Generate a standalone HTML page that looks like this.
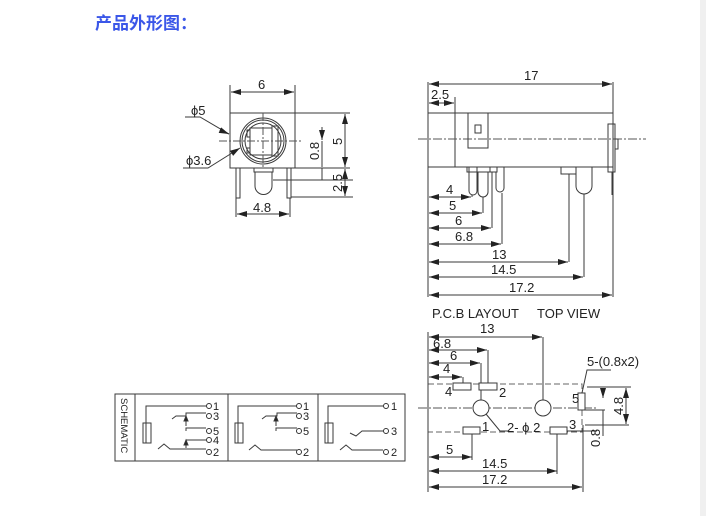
<!DOCTYPE html>
<html><head><meta charset="utf-8"><style>
html,body{margin:0;padding:0;background:#fff;width:706px;height:516px;overflow:hidden}
svg{display:block}
text{font-family:"Liberation Sans",Arial,sans-serif;fill:#222}
</style></head><body>
<svg width="706" height="516" viewBox="0 0 706 516" xmlns="http://www.w3.org/2000/svg">
<defs>
<marker id="a" viewBox="0 0 10 6" refX="10" refY="3" markerWidth="10" markerHeight="6" orient="auto-start-reverse" markerUnits="userSpaceOnUse"><path d="M0,0L10,3L0,6z" fill="#222"/></marker>
</defs>
<rect x="700" y="0" width="6" height="516" fill="#f0f0f0"/>
<text x="95" y="29" style="font-family:'Liberation Sans','Noto Sans CJK SC',sans-serif;font-weight:bold;font-size:17px;fill:#3b57e8">产品外形图：</text>

<g stroke="#3a3a3a" stroke-width="1" fill="none">
<!-- FRONT VIEW -->
<rect x="230" y="113" width="65" height="55"/>
<circle cx="263" cy="141" r="23"/><circle cx="263" cy="141" r="21"/><circle cx="263" cy="141" r="18"/>
<rect x="250" y="128" width="22" height="27"/><rect x="272" y="126" width="6" height="30"/>
<path d="M250,137h-3v-7h3M250,148h-3v5h3"/>
<path d="M219,141h82" stroke-dasharray="8,2,2,2" stroke="#555"/><path d="M263,113v55" stroke-dasharray="8,2,2,2" stroke="#555"/>
<path d="M236,168v30h4v-30M287,168v30h4v-30"/>
<path d="M254,168v4h19v-4M255,172v14a8,8 0 0 0 17,0v-14"/>
<path d="M230,113v-28M295,113v-28"/><path d="M231,92h63" marker-start="url(#a)" marker-end="url(#a)"/>
<path d="M236,198v19M290,198v19"/><path d="M237,214h52" marker-start="url(#a)" marker-end="url(#a)"/>
<path d="M185,117h15l29,17" /><path d="M222,131l7,3" marker-end="url(#a)"/>
<path d="M183,168h25l32,-20" marker-end="url(#a)"/>
<path d="M295,113h55M295,168h55M273,180h80M291,197h62"/>
<path d="M322,140v-13M322,180v-12" marker-start="url(#a)"/><path d="M322,141v26"/>
<path d="M345,114v53" marker-start="url(#a)" marker-end="url(#a)"/>
<path d="M345,169v27" marker-start="url(#a)" marker-end="url(#a)"/>

<!-- SIDE VIEW -->
<rect x="428" y="113" width="185" height="54"/><path d="M455,113v54"/>
<path d="M418,139h228" stroke-dasharray="9,2,2,2" stroke="#555"/>
<rect x="468" y="113" width="20" height="35"/><rect x="475" y="125" width="6" height="8"/>
<path d="M468,148h20"/>
<rect x="608" y="124" width="7" height="48"/><path d="M615,139h3v10h-3M612,172v23"/>
<path d="M469,167v24a4,4 0 0 0 8,0v-24M478,172v20a5,5 0 0 0 10,0v-20M467,167v5h23v-5M490,172h7v-5M496,172v16a4,4 0 0 0 8,0v-21M489,172h8"/>
<path d="M561,167v7h15v-7M576,174v12a8,8 0 0 0 16,0v-19"/>
<path d="M428,82v215M613,82v215"/>
<path d="M429,84h183" marker-start="url(#a)" marker-end="url(#a)"/>
<path d="M455,97v16"/><path d="M429,103h25" marker-start="url(#a)" marker-end="url(#a)"/>
<path d="M429,197h42" marker-start="url(#a)" marker-end="url(#a)"/><path d="M472,197v-2"/>
<path d="M429,213h53" marker-start="url(#a)" marker-end="url(#a)"/><path d="M483,213v-16"/>
<path d="M429,228h62" marker-start="url(#a)" marker-end="url(#a)"/><path d="M492,228v-56"/>
<path d="M429,244h72" marker-start="url(#a)" marker-end="url(#a)"/><path d="M502,244v-51"/>
<path d="M429,262h139" marker-start="url(#a)" marker-end="url(#a)"/><path d="M569,262v-88"/>
<path d="M429,277h154" marker-start="url(#a)" marker-end="url(#a)"/><path d="M584,277v-83"/>
<path d="M429,295h183" marker-start="url(#a)" marker-end="url(#a)"/><path d="M613,295v-100"/>

<!-- PCB -->
<path d="M428,384h154v48h-154z" stroke-dasharray="6,3" stroke="#666"/>
<path d="M418,408h180" stroke-dasharray="9,2,2,2" stroke="#555"/>
<path d="M428,332v160M583,425v67"/>
<path d="M429,337h113" marker-start="url(#a)" marker-end="url(#a)"/><path d="M543,337v78"/>
<path d="M429,350h58" marker-start="url(#a)" marker-end="url(#a)"/><path d="M488,350v33"/>
<path d="M429,363h51" marker-start="url(#a)" marker-end="url(#a)"/><path d="M481,363v38"/>
<path d="M429,377h33" marker-start="url(#a)" marker-end="url(#a)"/><path d="M463,377v6"/>
<rect x="453" y="383" width="18" height="7" fill="#fff"/><rect x="479" y="383" width="18" height="7" fill="#fff"/>
<circle cx="481" cy="408" r="8" fill="#fff"/><circle cx="543" cy="408" r="8" fill="#fff"/>
<rect x="463" y="427" width="17" height="7" fill="#fff"/><rect x="550" y="427" width="17" height="7" fill="#fff"/>
<rect x="578" y="393" width="7" height="17" fill="#fff"/>
<path d="M486,414l14,17h8"/>
<path d="M429,457h43" marker-start="url(#a)" marker-end="url(#a)"/><path d="M472,434v26"/>
<path d="M429,471h128" marker-start="url(#a)" marker-end="url(#a)"/><path d="M557,434v40"/>
<path d="M429,487h153" marker-start="url(#a)" marker-end="url(#a)"/>
<path d="M582,393l5,-23h24"/>
<path d="M587,387h44M585,425h44M567,431h30M585,410h20"/>
<path d="M626,388v36" marker-start="url(#a)" marker-end="url(#a)"/>
<path d="M603,398v-10M603,424v12" marker-start="url(#a)"/><path d="M603,410v14"/>

<!-- SCHEMATIC -->
<rect x="115" y="394" width="290" height="67"/><path d="M135,394v67M228,394v67M318,394v67"/>
<path d="M146,443v-37h60M143,423h8v20h-8zM158,449l6,-5l6,5h36M172,419l4,-3h10v-3h20M186,416v10M186,431v-3h20M186,448v-8M186,440h20" />
<path d="M186,416l-2,5h4z" fill="#222"/><path d="M186,440l-2,5h4z" fill="#222"/>
<path d="M238,443v-37h60M235,423h8v20h-8zM249,450l6,-5l6,5h36M262,419l4,-3h11v-3h20M276,416v10M276,431v-3h21"/>
<path d="M276,416l-2,5h4z" fill="#222"/>
<path d="M328,443v-37h55M325,423h8v20h-8zM340,450l6,-5l6,5h31M350,433l6,3l6,-5h21"/>
</g>
<g fill="#fff" stroke="#333">
<circle cx="209" cy="406" r="2.5"/><circle cx="209" cy="416" r="2.5"/><circle cx="209" cy="431" r="2.5"/><circle cx="209" cy="440" r="2.5"/><circle cx="209" cy="452" r="2.5"/>
<circle cx="299" cy="406" r="2.5"/><circle cx="299" cy="416" r="2.5"/><circle cx="299" cy="431" r="2.5"/><circle cx="299" cy="452" r="2.5"/>
<circle cx="386" cy="406" r="2.5"/><circle cx="386" cy="431" r="2.5"/><circle cx="386" cy="452" r="2.5"/>
</g>
<g font-size="11">
<text x="213" y="410">1</text><text x="213" y="420">3</text><text x="213" y="435">5</text><text x="213" y="444">4</text><text x="213" y="456">2</text>
<text x="303" y="410">1</text><text x="303" y="420">3</text><text x="303" y="435">5</text><text x="303" y="456">2</text>
<text x="391" y="410">1</text><text x="391" y="435">3</text><text x="391" y="456">2</text>
<text transform="translate(121,398) rotate(90)" font-size="9.5">SCHEMATIC</text>
</g>
<g font-size="13">
<text x="258" y="89">6</text>
<text x="191" y="115">ϕ5</text>
<text x="186" y="165">ϕ3.6</text>
<text x="253" y="212">4.8</text>
<text transform="translate(319,160) rotate(-90)">0.8</text>
<text transform="translate(342,145) rotate(-90)">5</text>
<text transform="translate(342,192) rotate(-90)">2.5</text>
<text x="524" y="80">17</text>
<text x="431" y="99">2.5</text>
<text x="446" y="194">4</text><text x="449" y="210">5</text><text x="455" y="225">6</text><text x="455" y="241">6.8</text>
<text x="492" y="259">13</text><text x="491" y="274">14.5</text><text x="509" y="292">17.2</text>
<text x="432" y="318">P.C.B LAYOUT</text><text x="537" y="318">TOP VIEW</text>
<text x="480" y="333">13</text><text x="433" y="348">6.8</text><text x="450" y="360">6</text><text x="443" y="373">4</text>
<text x="445" y="396">4</text><text x="499" y="397">2</text><text x="482" y="431">1</text>
<text x="507" y="432">2- ϕ 2</text><text x="569" y="429">3</text><text x="572" y="403">5</text>
<text x="587" y="366">5-(0.8x2)</text>
<text transform="translate(623,415) rotate(-90)">4.8</text>
<text transform="translate(600,447) rotate(-90)">0.8</text>
<text x="446" y="454">5</text><text x="482" y="468">14.5</text><text x="482" y="484">17.2</text>
</g>
</svg>
</body></html>
